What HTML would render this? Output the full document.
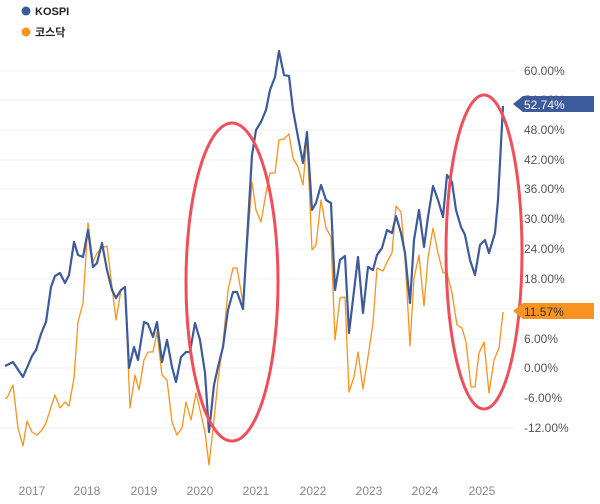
<!DOCTYPE html>
<html><head><meta charset="utf-8"><style>
body{margin:0;background:#fff;}
svg text{font-family:"Liberation Sans","Noto Sans CJK KR",sans-serif;}
</style></head><body>
<svg width="600" height="499" viewBox="0 0 600 499" xmlns="http://www.w3.org/2000/svg">
<g stroke="#f2f2f2" stroke-width="1">
<line x1="0" x2="515" y1="71" y2="71"/><line x1="0" x2="515" y1="100" y2="100"/><line x1="0" x2="515" y1="130" y2="130"/><line x1="0" x2="515" y1="160" y2="160"/><line x1="0" x2="515" y1="189" y2="189"/><line x1="0" x2="515" y1="219" y2="219"/><line x1="0" x2="515" y1="249" y2="249"/><line x1="0" x2="515" y1="279" y2="279"/><line x1="0" x2="515" y1="309" y2="309"/><line x1="0" x2="515" y1="339" y2="339"/><line x1="0" x2="515" y1="368" y2="368"/><line x1="0" x2="515" y1="398" y2="398"/><line x1="0" x2="515" y1="428" y2="428"/>
</g>
<g font-size="12" fill="#555">
<text x="524" y="75">60.00%</text><text x="524" y="104">54.00%</text><text x="524" y="134">48.00%</text><text x="524" y="164">42.00%</text><text x="524" y="193">36.00%</text><text x="524" y="223">30.00%</text><text x="524" y="253">24.00%</text><text x="524" y="283">18.00%</text><text x="524" y="313">12.00%</text><text x="524" y="343">6.00%</text><text x="524" y="372">0.00%</text><text x="524" y="402">-6.00%</text><text x="524" y="432">-12.00%</text>
</g>
<g font-size="12" fill="#888" text-anchor="middle">
<text x="32" y="495">2017</text><text x="87" y="495">2018</text><text x="144" y="495">2019</text><text x="200" y="495">2020</text><text x="256" y="495">2021</text><text x="313" y="495">2022</text><text x="369" y="495">2023</text><text x="425" y="495">2024</text><text x="482" y="495">2025</text>
</g>
<polyline fill="none" stroke="#f7931e" stroke-width="1.3" stroke-linejoin="round" points="5,398 7,398 13,385 18,428 23,446 27,421 32,432 37,435 42,430 46,423 51,407 55,395 60,408 65,402 69,406 74,378 78,322 83,303 88,223 93,262 97,253 102,248 107,246 112,287 116,320 121,290 125,287 130,408 135,375 139,390 144,360 148,352 153,352 157,332 162,375 167,380 172,422 177,435 182,428 186,402 191,420 196,393 200,410 205,432 209,465 214,420 218,380 223,343 228,290 233,268 237,268 243,303 252,182 256,210 261,222 266,193 270,173 275,173 279,140 284,139 289,134 293,158 298,167 303,185 307,138 312,250 316,245 321,200 326,228 331,237 335,340 340,298 345,297 349,392 354,377 358,352 363,389 368,357 373,323 377,268 383,271 387,262 392,253 396,206 401,212 405,257 410,346 414,278 419,255 424,306 428,258 433,228 438,253 443,273 447,273 452,293 457,325 462,328 466,342 471,387 475,387 479,353 484,342 489,393 494,360 499,348 503,312"/>
<polyline fill="none" stroke="#3d5a9a" stroke-width="2.2" stroke-linejoin="round" points="5,366 7,365 13,362 23,377 32,356 36,350 41,334 46,322 51,287 55,276 60,273 65,283 69,275 74,242 78,255 83,257 88,230 93,267 97,263 102,243 107,270 112,290 116,298 121,290 125,287 129,368 134,347 138,360 144,322 148,324 153,337 157,322 162,362 167,340 172,367 176,382 181,357 186,352 190,352 195,323 200,340 205,373 209,432 214,385 218,367 223,347 228,310 233,292 237,292 243,309 252,155 256,130 261,122 266,110 270,90 275,77 279,51 284,75 289,76 293,110 298,137 303,163 307,132 312,210 316,203 321,185 326,200 331,203 335,290 340,260 345,256 349,333 358,257 363,313 368,267 373,270 377,255 382,248 387,230 392,233 396,216 401,233 405,253 410,303 414,240 419,210 424,247 428,217 433,186 438,200 443,217 447,175 452,182 456,210 461,227 465,235 470,260 475,275 480,245 485,240 489,253 495,233 498,200 503,106"/>
<ellipse cx="232" cy="282" rx="46" ry="159" fill="none" stroke="#ef4f5b" stroke-width="3"/>
<ellipse cx="484" cy="252" rx="38" ry="157" fill="none" stroke="#ef4f5b" stroke-width="3"/>
<path d="M513,104 L523,96 L594,96 L594,112 L523,112 Z" fill="#3d5a9a"/>
<text x="524" y="109" font-size="12" fill="#fff">52.74%</text>
<path d="M513,311 L523,303 L594,303 L594,319 L523,319 Z" fill="#f7931e"/>
<text x="524" y="316" font-size="12" fill="#333">11.57%</text>
<circle cx="26" cy="11" r="4.5" fill="#3d5a9a"/>
<text x="35" y="15" font-size="11" font-weight="bold" fill="#222">KOSPI</text>
<circle cx="26" cy="32" r="4.5" fill="#f7931e"/>
<text x="35" y="36" font-size="11" font-weight="bold" fill="#222">코스닥</text>
</svg>
</body></html>
